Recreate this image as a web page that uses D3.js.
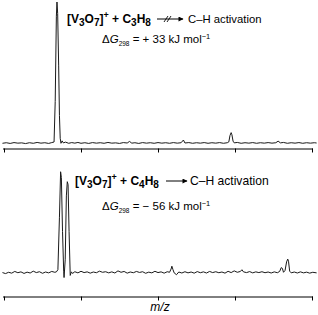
<!DOCTYPE html>
<html lang="en">
<head>
  <meta charset="UTF-8">
  <title>V3O7+ spectra</title>
  <style>
    body { margin: 0; background: #fff; }
    svg { display: block; font-family: "Liberation Sans", Arial, sans-serif; }
    .trace { fill: none; stroke: #1a1a1a; stroke-width: 1; stroke-linejoin: round; }
    .axis path, .axis line { stroke: #000; stroke-width: 1; }
  </style>
</head>
<body>
  <svg id="chart" width="318" height="315"></svg>

  <script src="https://d3js.org/d3.v7.min.js"></script>
  <script>
    // m/z in tick units (0..4), intensity in % of the top peak
    const tickValues = [0, 1, 2, 3, 4];

    const topTrace = [
      [-0.02, 0.5], [0.03, 0.9], [0.08, 0.4], [0.13, 1.0], [0.18, 0.6], [0.23, 0.8],
      [0.28, 0.3], [0.33, 0.9], [0.38, 0.5], [0.43, 1.1], [0.48, 0.6], [0.53, 0.9],
      [0.58, 0.4], [0.62, 1.0], [0.65, 1.4], [0.665, 30], [0.68, 90], [0.688, 100],
      [0.697, 92], [0.71, 55], [0.72, 20], [0.73, 4], [0.74, 0.5], [0.755, 2.2],
      [0.77, 0.8], [0.80, 1.3], [0.84, 0.5], [0.88, 1.0], [0.92, 0.6], [0.96, 1.1],
      [1.00, 0.5], [1.05, 0.9], [1.10, 0.4], [1.15, 1.0], [1.20, 0.6], [1.25, 0.9],
      [1.30, 0.5], [1.35, 1.1], [1.40, 0.6], [1.45, 0.8], [1.50, 0.4], [1.55, 1.0],
      [1.60, 0.7], [1.63, 1.8], [1.66, 0.6], [1.70, 0.9], [1.75, 0.4], [1.80, 1.0],
      [1.85, 0.6], [1.90, 0.9], [1.95, 0.5], [2.00, 1.0], [2.05, 0.6], [2.10, 0.9],
      [2.15, 0.5], [2.20, 1.0], [2.25, 0.6], [2.30, 0.9], [2.33, 2.8], [2.35, 0.7],
      [2.40, 1.0], [2.45, 0.5], [2.50, 0.9], [2.55, 0.6], [2.60, 1.0], [2.65, 0.5],
      [2.70, 0.9], [2.75, 0.6], [2.80, 1.0], [2.85, 0.5], [2.90, 0.9], [2.92, 1.5],
      [2.935, 6], [2.95, 8], [2.96, 6.5], [2.975, 2], [2.99, 0.8], [3.03, 1.1],
      [3.08, 0.5], [3.13, 0.9], [3.18, 0.6], [3.23, 1.0], [3.28, 0.5], [3.33, 0.9],
      [3.38, 0.6], [3.43, 1.0], [3.48, 0.6], [3.53, 0.9], [3.56, 2.0], [3.59, 0.8],
      [3.63, 1.1], [3.68, 0.5], [3.73, 0.9], [3.78, 0.6], [3.83, 1.0], [3.88, 0.5],
      [3.93, 0.9], [3.98, 0.6], [4.03, 0.9], [4.06, 0.7]
    ];

    const bottomTrace = [
      [-0.02, 1.0], [0.02, 0.3], [0.06, 1.2], [0.10, 0.6], [0.14, 1.8], [0.18, 0.9],
      [0.22, 1.5], [0.26, 0.4], [0.30, 1.3], [0.34, 0.7], [0.38, 2.0], [0.42, 1.0],
      [0.46, 1.6], [0.50, 0.5], [0.54, 1.4], [0.58, 0.8], [0.62, 1.8], [0.66, 1.2],
      [0.68, 1.5], [0.70, 3], [0.72, 40], [0.735, 72], [0.745, 68], [0.76, 30],
      [0.775, 2], [0.78, -2.5], [0.795, 10], [0.81, 55], [0.822, 65], [0.832, 63],
      [0.845, 30], [0.86, -1], [0.875, 1.5], [0.89, 0.4], [0.92, 1.6], [0.96, 0.8],
      [1.00, 1.9], [1.04, 1.0], [1.08, 1.5], [1.12, 0.6], [1.16, 1.4], [1.20, 0.9],
      [1.24, 2.0], [1.28, 1.2], [1.32, 1.6], [1.36, 0.8], [1.40, 1.5], [1.44, 0.7],
      [1.48, 2.2], [1.52, 1.2], [1.56, 1.8], [1.60, 0.6], [1.64, 1.4], [1.68, 0.9],
      [1.72, 1.8], [1.76, 1.1], [1.80, 1.6], [1.84, 0.5], [1.88, 1.3], [1.92, 0.8],
      [1.96, 1.9], [2.00, 1.0], [2.04, 1.5], [2.08, 0.6], [2.12, 1.6], [2.15, 1.2],
      [2.17, 3.5], [2.18, 5.5], [2.195, 3], [2.21, 0.8], [2.24, -0.5], [2.27, 1.4],
      [2.31, 0.7], [2.35, 1.6], [2.39, 0.8], [2.43, 1.4], [2.47, 0.6], [2.51, 1.7],
      [2.55, 0.9], [2.59, 1.5], [2.63, 0.7], [2.67, 1.8], [2.71, 1.0], [2.75, 1.6],
      [2.79, 0.9], [2.83, 1.4], [2.87, 0.6], [2.91, 1.9], [2.95, 1.0], [2.99, 2.2],
      [3.03, 1.2], [3.07, 1.8], [3.09, 3.0], [3.11, 1.5], [3.15, 1.0], [3.19, 1.7],
      [3.23, 0.8], [3.27, 1.5], [3.31, 1.0], [3.35, 1.6], [3.39, 0.9], [3.43, 1.4],
      [3.47, 0.7], [3.51, 1.5], [3.55, 0.9], [3.58, 1.8], [3.60, 4.5], [3.615, 4],
      [3.63, 1.2], [3.65, 2.5], [3.67, 8.5], [3.685, 10.5], [3.695, 9], [3.71, 2],
      [3.73, 0.8], [3.77, 1.4], [3.81, 0.7], [3.85, 1.5], [3.89, 0.8], [3.93, 1.3],
      [3.97, 0.6], [4.01, 1.2], [4.06, 0.8]
    ];

    const panels = [
      { trace: topTrace, base: 144, axisY: 148.5, textY: 23, arrowX: [157, 183], crossed: true,
        formula: ["[V", "3", "O", "7", "]", "+", " + C", "3", "H", "8"], fx: 67, cx: 188, cs: 11.3,
        dgY: 43, sign: "+", dg: "33" },
      { trace: bottomTrace, base: 274, axisY: 296.5, textY: 185, arrowX: [166, 187], crossed: false,
        formula: ["[V", "3", "O", "7", "]", "+", " + C", "4", "H", "8"], fx: 75, cx: 190, cs: 12.1,
        dgY: 210, sign: "\u2212", dg: "56" }
    ];

    const svg = d3.select("#chart");

    const x = d3.scaleLinear().domain([0, 4]).range([4, 312]);

    svg.append("defs").append("marker")
      .attr("id", "head")
      .attr("viewBox", "0 0 10 10")
      .attr("refX", 9).attr("refY", 5)
      .attr("markerWidth", 6).attr("markerHeight", 5)
      .attr("markerUnits", "userSpaceOnUse")
      .attr("orient", "auto")
      .append("path").attr("d", "M0,0L10,5L0,10Z").attr("fill", "#000");

    panels.forEach(p => {
      const y = d3.scaleLinear().domain([0, 100]).range([p.base, p.base - 142]);

      const line = d3.line().x(d => x(d[0])).y(d => y(d[1]));
      svg.append("path").datum(p.trace).attr("class", "trace").attr("d", line);

      svg.append("g")
        .attr("class", "axis")
        .attr("transform", `translate(0,${p.axisY})`)
        .call(d3.axisBottom(x).tickValues(tickValues).tickSize(4).tickSizeOuter(0).tickFormat(""))
        .call(g => g.select(".domain").attr("d", `M3,0.5H313`));

      // formula, bold, with sub/superscripts
      const f = svg.append("text")
        .attr("x", p.fx).attr("y", p.textY)
        .attr("font-size", 12).attr("font-weight", "bold").attr("fill", "#000");
      const kind = ["n", "sub", "n", "sub", "n", "sup", "n", "sub", "n", "sub"];
      let shift = 0;
      p.formula.forEach((s, i) => {
        const target = kind[i] === "sub" ? 3 : kind[i] === "sup" ? -5 : 0;
        f.append("tspan")
          .attr("dy", target - shift)
          .attr("font-size", kind[i] === "sup" ? 9 : kind[i] === "sub" ? 10 : 12)
          .text(s);
        shift = target;
      });

      // reaction arrow
      svg.append("line")
        .attr("x1", p.arrowX[0]).attr("x2", p.arrowX[1])
        .attr("y1", p.textY - 4).attr("y2", p.textY - 4)
        .attr("stroke", "#000").attr("stroke-width", 1)
        .attr("marker-end", "url(#head)");
      if (p.crossed) {
        [166, 169].forEach(cx => {
          svg.append("line")
            .attr("x1", cx - 2).attr("x2", cx + 2)
            .attr("y1", p.textY - 1).attr("y2", p.textY - 7)
            .attr("stroke", "#000").attr("stroke-width", 0.9);
        });
      }

      svg.append("text")
        .attr("x", p.cx).attr("y", p.textY)
        .attr("font-size", p.cs).attr("fill", "#000")
        .text("C\u2013H activation");

      // free energy line
      const g = svg.append("text")
        .attr("x", 102).attr("y", p.dgY)
        .attr("font-size", 11.5).attr("fill", "#000");
      g.append("tspan").text("\u0394");
      g.append("tspan").attr("font-style", "italic").text("G");
      g.append("tspan").attr("font-size", 6.5).attr("dy", 2.5).text("298");
      g.append("tspan").attr("dy", -2.5).text(` = ${p.sign} ${p.dg} kJ mol`);
      g.append("tspan").attr("font-size", 7.5).attr("dy", -4).text("\u22121");
    });

    svg.append("text")
      .attr("x", 160).attr("y", 311)
      .attr("text-anchor", "middle")
      .attr("font-size", 12).attr("font-style", "italic")
      .text("m/z");
  </script>
</body>
</html>
